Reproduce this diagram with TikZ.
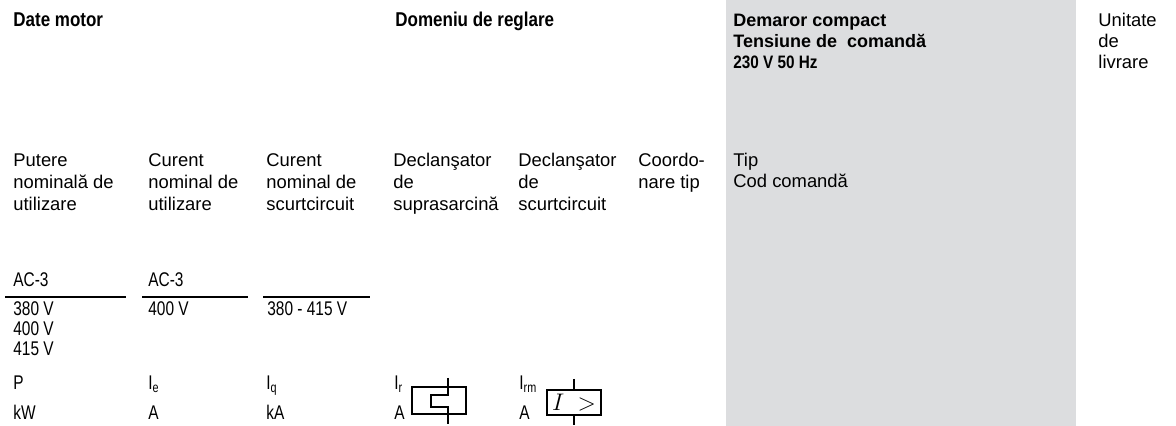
\documentclass[tikz,border=0pt]{standalone}
\usepackage{fontspec}
\setmainfont{Liberation Sans}
\newfontfamily\condfont{Liberation Sans}[FakeStretch=0.78]
\newfontfamily\hdfont{Liberation Sans}[FakeStretch=0.85]
\definecolor{panelgrey}{HTML}{DCDDDF}

\begin{document}
\begin{tikzpicture}[x=0.5pt, y=-0.5pt,
		lbl/.style={anchor=base west, inner sep=0pt, align=left, font=\fontsize{9.2}{11}\selectfont},
		lbltight/.style={lbl, font=\fontsize{9.2}{10.5}\selectfont},
		hdleft/.style={anchor=base west, inner sep=0pt, font=\hdfont\bfseries\fontsize{10}{10.5}\selectfont},
		hdright/.style={anchor=base west, inner sep=0pt, align=left, font=\bfseries\fontsize{9}{10.5}\selectfont},
		num/.style={anchor=base west, inner sep=0pt, align=left, font=\condfont\fontsize{9.9}{10}\selectfont},
		rule/.style={line width=0.65pt},
		sym/.style={line width=0.6pt}]
			%%%%% START %%%%%
			
			% multi-line nodes sit on the baseline of their last line
			\useasboundingbox (0, 0) rectangle (1176, 426);
			\fill[panelgrey] (726, 0) rectangle (1076, 426);
			
			\node[hdleft] (datemotor) at (13, 27) {Date motor};
			\node[hdleft] (domeniu) at (395, 27) {Domeniu de reglare};
			\node[hdright] (demaror) at (733, 69) {Demaror compact\\Tensiune de~~comandă\\{\hdfont 230 V 50 Hz}};
			\node[lbltight] (unitate) at (1098, 69) {Unitate\\de\\livrare};
			
			\node[lbl] (putere) at (13, 211) {Putere\\nominală de\\utilizare};
			\node[lbl] (curente) at (148, 211) {Curent\\nominal de\\utilizare};
			\node[lbl] (curentq) at (266, 211) {Curent\\nominal de\\scurtcircuit};
			\node[lbl] (declr) at (393, 211) {Declanşator\\de\\suprasarcină};
			\node[lbl] (declrm) at (518, 211) {Declanşator\\de\\scurtcircuit};
			\node[lbl] (coord) at (638, 189) {Coordo-\\nare tip};
			\node[lbltight] (tip) at (733, 188) {Tip\\Cod comandă};
			
			\node[num] (acp) at (13, 287) {AC-3};
			\node[num] (ace) at (148, 287) {AC-3};
			\draw[rule] (5, 297) -- (126, 297);
			\draw[rule] (142, 297) -- (248, 297);
			\draw[rule] (263, 297) -- (370, 297);
			\node[num] (voltp) at (13, 356) {380 V\\400 V\\415 V};
			\node[num] (volte) at (148, 316) {400 V};
			\node[num] (voltq) at (267, 316) {380 - 415 V};
			
			\node[num] (symp) at (13, 390) {P};
			\node[num] (syme) at (148, 390) {I\textsubscript{e}};
			\node[num] (symq) at (266, 390) {I\textsubscript{q}};
			\node[num] (symr) at (394, 390) {I\textsubscript{r}};
			\node[num] (symrm) at (519, 390) {I\textsubscript{rm}};
			
			\node[num] (unitp) at (13, 420) {kW};
			\node[num] (unite) at (148, 420) {A};
			\node[num] (unitq) at (266, 420) {kA};
			\node[num] (unitr) at (394, 420) {A};
			\node[num] (unitrm) at (519, 420) {A};
			
			\draw[sym] (412, 387) rectangle (466, 414);
			\draw[sym] (448, 378) -- (448, 395) -- (431, 395) -- (431, 407) -- (448, 407) -- (448, 424);
			
			\draw[sym] (547, 390) rectangle (601, 415);
			\draw[sym] (574, 379) -- (574, 390);
			\draw[sym] (574, 415) -- (574, 425);
			\node[inner sep=0pt, font=\fontsize{12.5}{12.5}\selectfont] (iover) at (574, 402.5) {$I\;>$};
			
			%%%%% END %%%%%
\end{tikzpicture}
\end{document}
